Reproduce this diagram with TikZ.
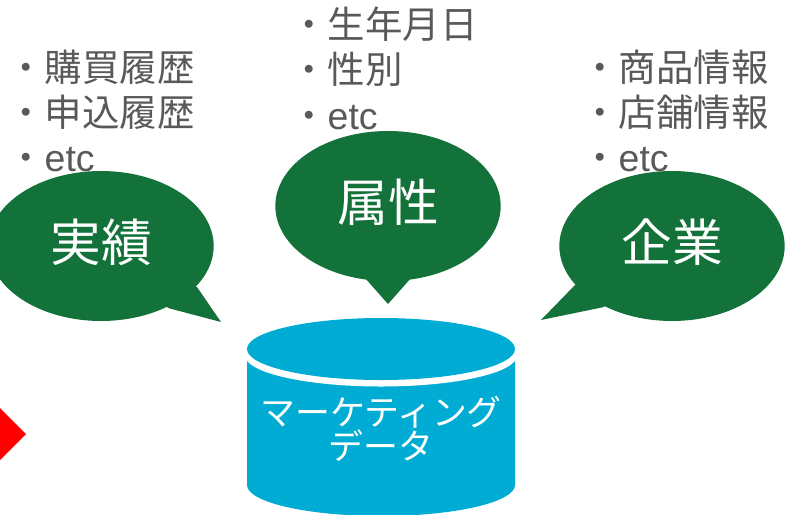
\documentclass[tikz,border=0pt]{standalone}
\usepackage{fontspec}
\setmainfont{Liberation Sans}
\newfontfamily\jpf{Noto Sans CJK JP}[Scale=1]
\usetikzlibrary{shapes.geometric}
\definecolor{bubblegreen}{HTML}{127239}
\definecolor{cylblue}{HTML}{00ACD3}
\definecolor{listgray}{HTML}{595959}
\newcommand{\jp}[1]{{\jpf #1}}
\tikzset{
  bubble/.style={ellipse,fill=bubblegreen,text=white,inner sep=0pt,minimum width=169pt,minimum height=112.5pt,text height=34pt,text depth=11.2pt,font=\fontsize{38pt}{40pt}\selectfont\jpf},
  bubbletail/.style={fill=bubblegreen},
  listing/.style={anchor=north west,inner sep=0pt,text=listgray,align=left,font=\fontsize{28.1pt}{34pt}\selectfont},
  cyltext/.style={text=white,inner sep=0pt,align=center,font=\fontsize{26.2pt}{25.6pt}\selectfont\jpf}
}
\begin{document}
\begin{tikzpicture}[x=0.75pt,y=-0.75pt]
\useasboundingbox (0,0) rectangle (787,514);
\clip (0,0) rectangle (787,514);
% red marker
\fill[red] (-30,378) -- (26,434) -- (-30,490) -- cycle;
% lists
\node[listing] (listA) at (7,49.5) {\jp{・購買履歴}\\\jp{・申込履歴}\\\jp{・}etc};
\node[listing] (listB) at (290,6.5) {\jp{・生年月日}\\\jp{・性別}\\\jp{・}etc};
\node[listing] (listC) at (581,49.5) {\jp{・商品情報}\\\jp{・店舗情報}\\\jp{・}etc};
% bubbles
\coordinate (tipA) at (221,322);
\coordinate (tipB) at (388,304);
\coordinate (tipC) at (541,320);
\fill[bubbletail] (197,287) -- (tipA) -- (168,308) -- (150,280) -- cycle;
\fill[bubbletail] (365,278) -- (tipB) -- (411,278) -- (388,260) -- cycle;
\fill[bubbletail] (575,285) -- (tipC) -- (604,307) -- (622,280) -- cycle;
\node[bubble] (jisseki) at (101,246) {実績};
\node[bubble] (zokusei) at (388,206) {属性};
\node[bubble] (kigyo) at (672,246) {企業};
% cylinder
\fill[cylblue] (247,355) -- (247,485) arc[start angle=180,end angle=0,x radius=134,y radius=31] -- (515,355) -- cycle;
\fill[white] (381,355.5) ellipse[x radius=136,y radius=31];
\fill[cylblue] (381,349) ellipse[x radius=134,y radius=31];
\node[cyltext] (cyl) at (381,428.5) {マーケティング\\データ};
\end{tikzpicture}
\end{document}
